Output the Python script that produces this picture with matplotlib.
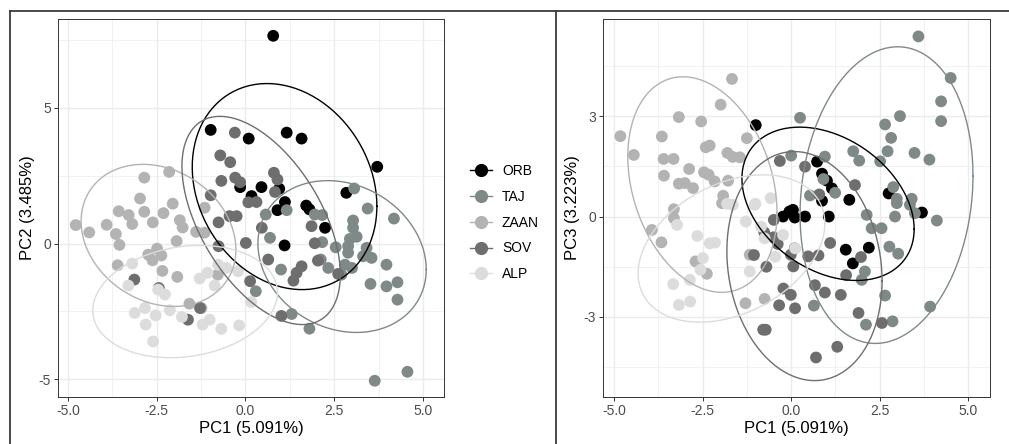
import numpy as np
import matplotlib
matplotlib.use("Agg")
import matplotlib.pyplot as plt
from matplotlib.lines import Line2D

plt.rcParams['font.family'] = ['Liberation Sans', 'DejaVu Sans']

groups = ["ORB", "TAJ", "ZAAN", "SOV", "ALP"]
colors = ["#000000", "#7f8a88", "#b3b3b3", "#6e6e6e", "#dcdcdc"]

# PC1 / PC2 scores (left panel)
orb_pc12 = [(-0.98, 4.19), (-0.15, 2.08), (0.09, 3.87), (0.17, 1.75), (0.45, 2.08),
            (0.78, 7.66), (0.90, 1.23), (0.95, 2.02), (1.10, -0.07), (1.11, 1.53),
            (1.16, 4.09), (1.58, 3.87), (1.71, 1.40), (1.80, 1.26), (2.24, 0.58),
            (2.84, 1.87), (3.71, 2.83)]
taj_pc12 = [(3.06, 2.03), (3.44, 1.29), (4.18, 0.92), (3.03, 0.85), (3.03, 0.58),
            (3.13, 0.25), (2.94, 0.17), (2.89, -0.10), (2.89, -0.34), (3.41, -0.16),
            (3.55, -0.53), (3.31, -0.47), (3.97, -0.78), (4.28, -1.43), (3.97, -1.58),
            (3.52, -1.49), (2.54, -0.14), (2.33, -0.90), (2.80, -0.78), (2.70, -1.15),
            (3.00, -0.90), (2.16, 0.05), (2.12, -0.59), (1.95, 1.07), (2.16, 1.05),
            (0.57, 1.07), (0.69, 0.21), (1.00, -0.96), (1.16, 1.23), (0.29, -1.76),
            (4.28, -2.07), (3.64, -5.06), (4.56, -4.73), (1.30, -2.60), (1.80, -3.14)]
zaan_pc12 = [(-4.78, 0.68), (-4.40, 0.41), (-3.91, 0.69), (-3.65, 0.35), (-3.55, -0.05),
             (-3.57, 1.19), (-3.29, 1.05), (-3.19, 0.72), (-2.97, 1.66), (-2.85, 2.43),
             (-2.85, 1.17), (-2.61, 0.78), (-2.31, 1.12), (-2.05, 1.47), (-2.15, 2.64),
             (-1.85, 0.86), (-1.77, 0.59), (-1.94, 0.09), (-1.39, 0.43), (-1.15, 0.40),
             (-1.15, 1.32), (-3.60, -0.80), (-2.74, -0.41), (-2.49, -0.19), (-2.37, -0.44),
             (-2.62, -0.62), (-2.34, -1.01), (-1.92, -1.23), (-1.58, -2.22), (-1.24, -2.38),
             (-0.78, -1.15)]
sov_pc12 = [(-0.30, 4.09), (-0.71, 3.25), (-0.43, 3.00), (-0.68, 2.31), (-0.29, 2.43),
            (-0.15, 2.26), (-0.98, 1.78), (0.08, 1.52), (0.31, 1.53), (-0.76, 0.78),
            (-0.45, 1.01), (-0.25, 1.01), (0.01, 0.02), (0.46, 0.58), (0.80, 2.61),
            (0.90, 2.36), (0.83, 1.90), (1.86, 0.64), (1.95, 0.01), (2.04, -0.63),
            (1.58, -0.84), (1.44, -1.08), (1.35, -1.37), (0.64, -0.59), (0.13, -1.39),
            (1.01, -2.67), (-0.76, -0.10), (2.61, -1.12), (-1.28, -2.38), (-1.62, -2.81),
            (-2.44, -1.64), (-3.13, -1.33)]
alp_pc12 = [(-3.19, -0.74), (-3.30, -1.55), (-2.46, -1.70), (-2.27, -1.88), (-3.12, -2.56),
            (-2.83, -2.38), (-2.53, -2.65), (-2.81, -2.99), (-2.60, -3.61), (-2.13, -2.46),
            (-1.79, -2.71), (-1.29, -1.29), (-1.07, -1.08), (-0.54, -0.90), (-0.87, -1.55),
            (-0.77, -0.78), (-1.21, -2.99), (-1.01, -2.81), (-0.68, -3.15), (-0.18, -3.02),
            (0.16, -2.16), (-0.21, -1.02)]

# PC1 / PC3 scores (right panel)
orb_pc13 = [(-1.00, 2.73), (-0.23, 0.00), (-0.05, 0.15), (0.05, 0.20), (0.10, -0.03),
            (0.39, 0.00), (0.73, 1.64), (0.87, 1.28), (0.87, 0.47), (1.01, 1.07),
            (1.06, 0.00), (1.15, 0.84), (1.54, -0.99), (1.64, 0.50), (1.74, -1.40),
            (2.19, -0.93), (2.75, 0.69), (3.69, 0.12)]
taj_pc13 = [(3.59, 5.38), (4.50, 4.14), (4.23, 3.44), (4.23, 2.85), (3.07, 3.00),
            (2.65, 2.75), (2.82, 2.35), (2.72, 1.95), (3.48, 1.90), (3.90, 1.70),
            (2.51, 1.65), (1.75, 1.95), (1.92, 1.67), (0.25, 2.95), (0.95, 1.79),
            (0.00, 1.82), (1.24, 0.71), (2.88, 0.88), (2.98, 0.53), (3.40, 0.53),
            (0.91, 1.12), (0.53, 0.63), (4.11, -0.12), (2.93, 0.00), (2.13, 0.05),
            (2.55, -0.35), (2.27, -0.35), (2.77, -0.90), (3.02, -1.11), (2.08, -1.64),
            (1.99, -1.89), (2.65, -2.36), (3.92, -2.69), (2.86, -3.13), (2.11, -3.23),
            (0.64, -2.66), (2.98, 0.40), (3.35, 0.35), (3.49, 0.10)]
zaan_pc13 = [(-1.67, 4.11), (-1.99, 3.34), (-3.17, 2.97), (-2.54, 2.84), (-4.82, 2.40),
             (-3.65, 2.39), (-4.44, 1.84), (-3.60, 1.72), (-3.32, 1.72), (-1.25, 2.34),
             (-2.41, 2.07), (-2.30, 2.12), (-2.88, 1.42), (-3.59, 1.22), (-2.46, 1.32),
             (-2.33, 1.25), (-3.17, 0.98), (-2.77, 0.85), (-2.16, 1.05), (-1.78, 1.07),
             (-1.80, 1.90), (-1.65, 1.78), (-1.45, 1.77), (-1.92, 0.62), (-1.95, 0.40),
             (-3.31, 0.22), (-3.31, -0.05), (-3.93, -0.40), (-3.66, -0.77), (-2.70, -1.34),
             (-2.38, -1.71), (-1.29, -2.59), (-0.75, -2.46), (-1.17, -1.14), (-3.00, 1.00)]
sov_pc13 = [(-0.32, 1.66), (0.39, 1.49), (1.80, 0.94), (0.79, 0.66), (-0.49, -0.10),
            (-0.76, -0.47), (-0.50, -0.62), (-0.38, -0.82), (-1.05, -1.15), (-0.70, -1.50),
            (-0.01, -1.14), (0.06, -1.49), (0.48, -1.19), (0.77, -1.16), (1.10, -0.79),
            (1.55, -1.75), (1.97, -1.21), (-0.22, -2.15), (-0.01, -2.34), (0.11, -2.74),
            (-0.34, -2.65), (-0.79, -3.38), (-0.72, -3.38), (0.67, -2.05), (0.95, -2.27),
            (1.40, -2.34), (1.90, -2.88), (2.56, -3.18), (1.30, -3.89), (0.70, -4.21),
            (0.10, -0.95)]
alp_pc13 = [(-3.22, -0.25), (-2.65, -0.58), (-2.30, -0.80), (-2.15, -0.78), (-2.49, -1.24),
            (-2.56, -1.59), (-2.86, -1.89), (-3.33, -2.02), (-2.85, -2.54), (-3.17, -2.64),
            (-1.28, -0.15), (-1.03, 0.35), (-0.23, -0.55), (-0.75, -0.65), (-1.17, -1.64),
            (-1.81, 0.38), (-1.01, 0.38), (-0.58, 0.55), (0.11, -0.95), (-1.65, 0.35),
            (-0.85, -0.30), (-0.45, -1.20)]

# 95% ellipses: centre x, centre y, half extent x, half extent y, correlation
ell_pc12 = [(1.10, 2.10, 2.60, 3.80, -0.19), (2.72, -0.48, 2.37, 2.80, -0.17),
            (-2.45, 0.30, 2.18, 2.62, -0.20), (0.44, 0.85, 2.23, 3.84, -0.52),
            (-1.70, -2.14, 2.60, 2.07, 0.16)]
ell_pc13 = [(1.04, 0.38, 2.43, 2.29, -0.33), (2.69, 0.64, 2.44, 4.43, 0.13),
            (-2.505, 0.955, 2.105, 3.22, -0.26), (0.375, -1.48, 2.19, 3.42, -0.13),
            (-1.685, -0.955, 2.635, 2.20, 0.34)]

left_points = [orb_pc12, taj_pc12, zaan_pc12, sov_pc12, alp_pc12]
right_points = [orb_pc13, taj_pc13, zaan_pc13, sov_pc13, alp_pc13]


def ellipse_xy(cx, cy, sx, sy, r):
    t = np.linspace(0, 2 * np.pi, 200)
    x = cx + sx * np.cos(t)
    y = cy + sy * (r * np.cos(t) + np.sqrt(1 - r ** 2) * np.sin(t))
    return x, y


def draw_panel(ax, pts, ells, ylabel, yticks, yminor, xlim, ylim):
    ax.set_xlim(*xlim)
    ax.set_ylim(*ylim)
    ax.set_xticks([-5, -2.5, 0, 2.5, 5])
    ax.set_xticklabels(["-5.0", "-2.5", "0.0", "2.5", "5.0"])
    ax.set_xticks([-3.75, -1.25, 1.25, 3.75], minor=True)
    ax.set_yticks(yticks)
    ax.set_yticklabels([str(v) for v in yticks])
    ax.set_yticks(yminor, minor=True)
    ax.grid(which='major', color='#ebebeb', lw=1.0)
    ax.grid(which='minor', color='#ebebeb', lw=0.5)
    ax.set_axisbelow(True)
    ax.tick_params(which='major', length=3, width=0.7, color='#333333',
                   labelsize=10, labelcolor='#4d4d4d', pad=2)
    ax.tick_params(which='minor', length=0)
    for s in ax.spines.values():
        s.set_color('#333333')
        s.set_linewidth(0.7)
    for g, c in zip(pts, colors):
        xs = [p[0] for p in g]
        ys = [p[1] for p in g]
        ax.scatter(xs, ys, s=72, color=c, edgecolors='none', zorder=3)
    for e, c in zip(ells, colors):
        x, y = ellipse_xy(*e)
        ax.plot(x, y, color=c, lw=1.0, zorder=4)
    ax.set_xlabel("PC1 (5.091%)", fontsize=12, labelpad=2)
    ax.set_ylabel(ylabel, fontsize=12, labelpad=3)


fig = plt.figure(figsize=(10.09, 4.44), dpi=100)
ax1 = fig.add_axes([58 / 1009, 47 / 444, 386 / 1009, 378 / 444])
ax2 = fig.add_axes([603 / 1009, 47 / 444, 387 / 1009, 378 / 444])

draw_panel(ax1, left_points, ell_pc12, "PC2 (3.485%)", [-5, 0, 5], [-2.5, 2.5, 7.5],
           (-5.28, 5.59), (-5.66, 8.28))
draw_panel(ax2, right_points, ell_pc13, "PC3 (3.223%)", [-3, 0, 3], [-4.5, -1.5, 1.5, 4.5],
           (-5.31, 5.61), (-5.39, 5.9))

handles = [Line2D([0], [0], color=c, marker='o', markersize=8.5, lw=1.0) for c in colors]
fig.legend(handles, groups, loc='upper left', bbox_to_anchor=(470 / 1009, 1 - 164 / 444),
           frameon=False, fontsize=10, handlelength=1.6, handletextpad=0.7,
           labelspacing=0.85, borderpad=0, borderaxespad=0)

# frame lines of the surrounding layout
frame = dict(color='#3a3a3a', lw=1.3, transform=fig.transFigure)
fig.add_artist(Line2D([10 / 1009, 10 / 1009], [0, 1 - 11 / 444], **frame))
fig.add_artist(Line2D([10 / 1009, 1], [1 - 11 / 444, 1 - 11 / 444], **frame))
fig.add_artist(Line2D([556 / 1009, 556 / 1009], [0, 1 - 11 / 444], **frame))

fig.savefig("out.png", dpi=100)
